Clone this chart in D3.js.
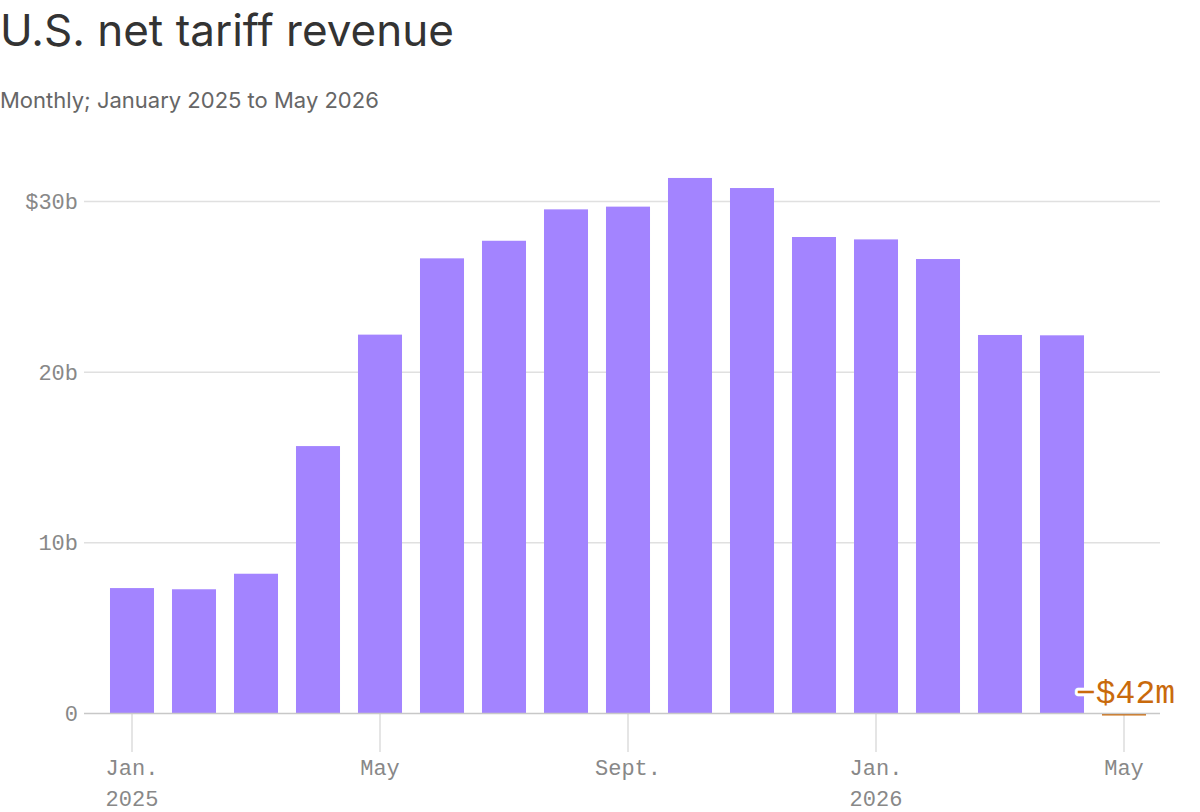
<!DOCTYPE html>
<html>
<head>
<meta charset="utf-8">
<script src="https://cdn.jsdelivr.net/npm/d3@7"></script>
<style>
  body { margin: 0; background: #fff; }
  svg { display: block; }
  .title { font-family: Inter, "Noto Sans", sans-serif; font-size: 44px; fill: #333; letter-spacing: 0px; }
  .subtitle { font-family: Inter, "Noto Sans", sans-serif; font-size: 22px; fill: #666; letter-spacing: 0px; }
  .tick-label { font-family: "Liberation Mono", "DejaVu Sans Mono", monospace; font-size: 22px; fill: #888; }
</style>
</head>
<body>
<svg id="chart" width="1200" height="812"></svg>
<script>
// Monthly net tariff revenue, billions of dollars
const months = ["2025-01", "2025-02", "2025-03", "2025-04", "2025-05", "2025-06", "2025-07", "2025-08",
    "2025-09", "2025-10", "2025-11", "2025-12", "2026-01", "2026-02", "2026-03", "2026-04", "2026-05"];
const revenue = [7.32, 7.25, 8.16, 15.64, 22.17, 26.64, 27.67, 29.51,
    29.67, 31.35, 30.76, 27.89, 27.75, 26.6, 22.15, 22.13, -0.042];

const yTicks = [0, 10, 20, 30];
const yTickLabels = ["0", "10b", "20b", "$30b"];

const xTickMonths = ["2025-01", "2025-05", "2025-09", "2026-01", "2026-05"];
const xTickLabels = [["Jan.", "2025"], ["May"], ["Sept."], ["Jan.", "2026"], ["May"]];

const lastLabel = "\u2212$42m";

const svg = d3.select("#chart");

const margin = { left: 84, right: 40, top: 201, bottom: 99 };
const width = 1200, height = 812;

let x = d3.scaleBand()
    .domain(months)
    .range([101, 1155])
    .paddingInner(0.29)
    .paddingOuter(0.145);

let y = d3.scaleLinear()
    .domain([0, 30])
    .range([713, 201]);

// Title block
svg.append("text").attr("class", "title").attr("x", 0).attr("y", 46).text("U.S. net tariff revenue");
svg.append("text").attr("class", "subtitle").attr("x", 0).attr("y", 108).text("Monthly; January 2025 to May 2026");

// Gridlines + y labels
let grid = svg.append("g").attr("class", "grid");
grid.selectAll("line")
    .data(yTicks.filter(d => d !== 0))
    .join("line")
    .attr("x1", margin.left)
    .attr("x2", width - margin.right)
    .attr("y1", d => y(d) + 0.5)
    .attr("y2", d => y(d) + 0.5)
    .attr("stroke", "#e0e0e0")
    .attr("stroke-width", 1.5);

svg.append("g")
    .selectAll("text")
    .data(yTicks)
    .join("text")
    .attr("class", "tick-label")
    .attr("x", 78)
    .attr("y", d => y(d))
    .attr("dy", "0.36em")
    .attr("text-anchor", "end")
    .text((d, i) => yTickLabels[i]);

// X ticks
let xTicks = svg.append("g").attr("class", "x-ticks");
xTickMonths.forEach((m, i) => {
    let cx = x(m) + x.bandwidth() / 2;
    xTicks.append("line")
        .attr("x1", cx).attr("x2", cx)
        .attr("y1", y(0)).attr("y2", 752)
        .attr("stroke", "#dcdcdc")
        .attr("stroke-width", 1.5);
    xTickLabels[i].forEach((t, j) => {
        xTicks.append("text")
            .attr("class", "tick-label")
            .attr("x", cx)
            .attr("y", 775 + j * 31)
            .attr("text-anchor", "middle")
            .text(t);
    });
});

// Bars
svg.append("g")
    .selectAll("rect")
    .data(months.map((m, i) => ({ month: m, value: revenue[i] })))
    .join("rect")
    .attr("x", d => x(d.month))
    .attr("width", x.bandwidth())
    .attr("y", d => d.value >= 0 ? y(d.value) : y(0) + 1)
    .attr("height", d => d.value >= 0 ? y(0) - y(d.value) : Math.max(1.5, y(d.value) - y(0)))
    .attr("fill", d => d.value >= 0 ? "#a384ff" : "#c96a0c");

// Zero line
svg.append("line")
    .attr("x1", margin.left)
    .attr("x2", width - margin.right)
    .attr("y1", y(0) + 0.5)
    .attr("y2", y(0) + 0.5)
    .attr("stroke", "#c8c8c8")
    .attr("stroke-width", 1.5);

// Annotation for the last (negative) month
let last = months[months.length - 1];
svg.append("text")
    .attr("x", x(last) + x.bandwidth() + 29)
    .attr("y", 703)
    .attr("text-anchor", "end")
    .attr("font-family", "'Liberation Mono', 'DejaVu Sans Mono', monospace")
    .attr("font-size", 33)
    .attr("fill", "#c96a0c")
    .attr("stroke", "#fff")
    .attr("stroke-width", 6)
    .attr("stroke-linejoin", "round")
    .attr("paint-order", "stroke")
    .text(lastLabel);
</script>
</body>
</html>
